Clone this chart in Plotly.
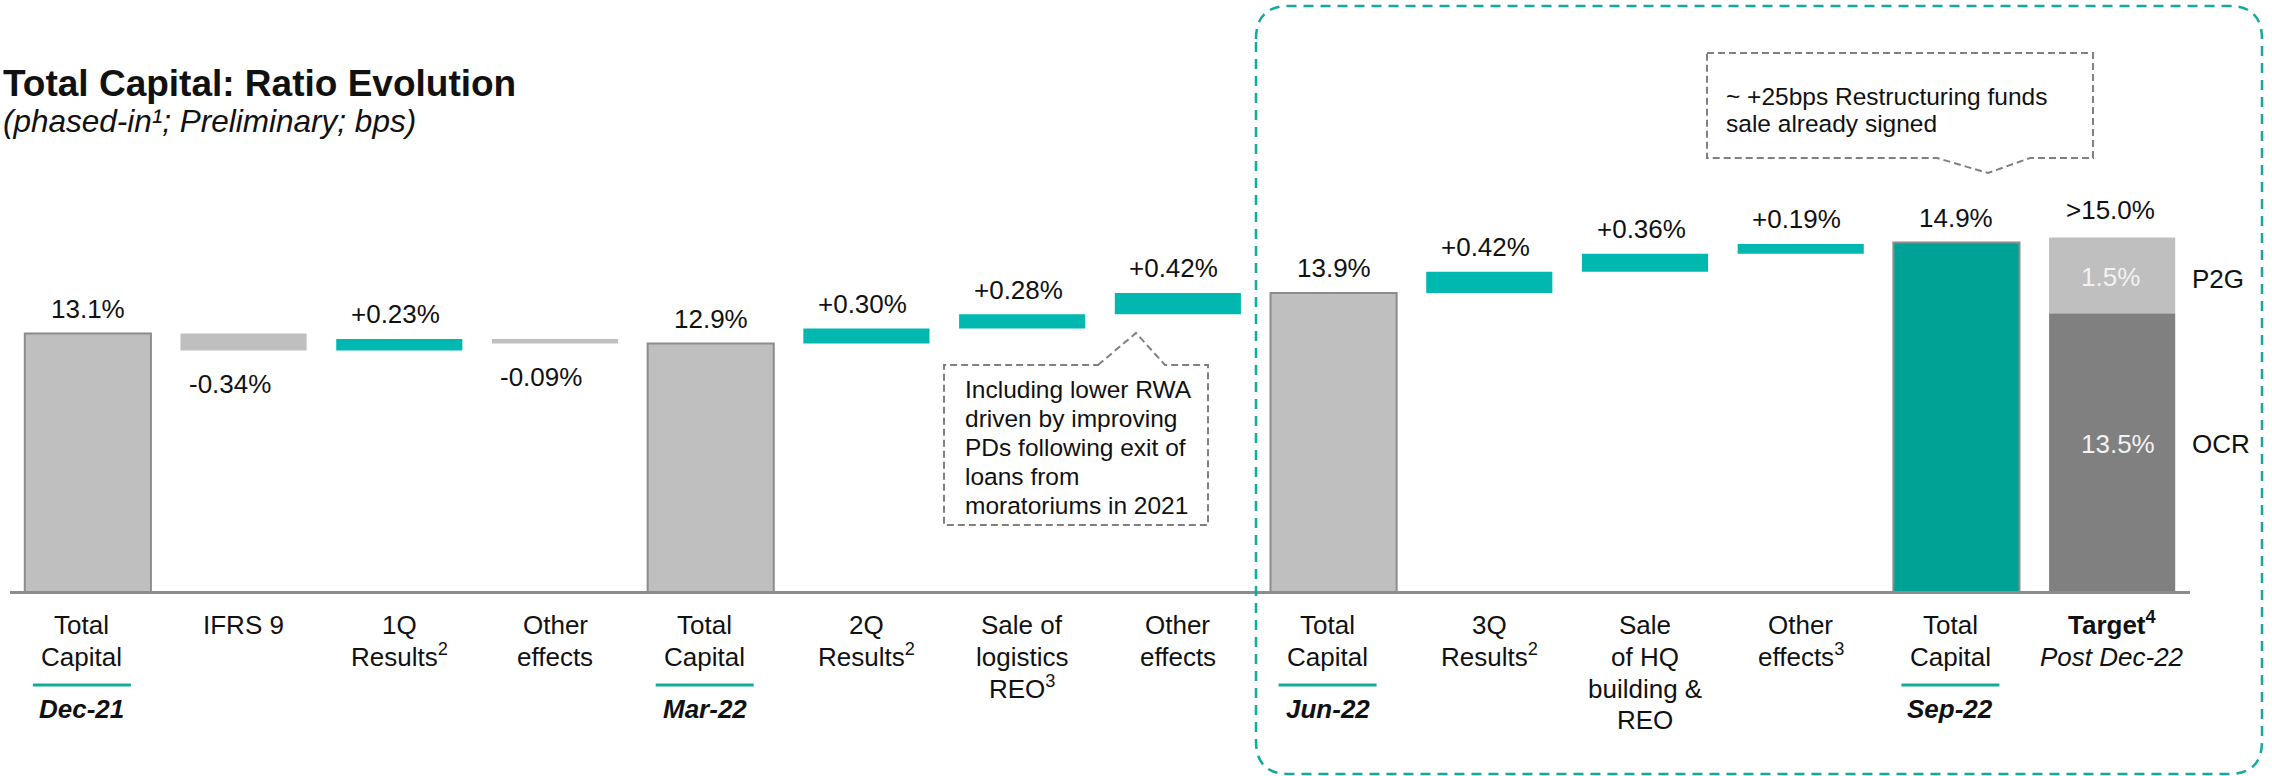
import plotly.graph_objects as go

# ---------------- data ----------------
categories = [
    "Total Capital Dec-21", "IFRS 9", "1Q Results", "Other effects (1Q)",
    "Total Capital Mar-22", "2Q Results", "Sale of logistics REO", "Other effects (2Q)",
    "Total Capital Jun-22", "3Q Results", "Sale of HQ building & REO", "Other effects (3Q)",
    "Total Capital Sep-22", "Target Post Dec-22",
]
kinds = ["total", "delta", "delta", "delta",
         "total", "delta", "delta", "delta",
         "total", "delta", "delta", "delta",
         "total_now", "target"]
values = [13.1, -0.34, 0.23, -0.09,
          12.9, 0.30, 0.28, 0.42,
          13.9, 0.42, 0.36, 0.19,
          14.9, None]
target_ocr = 13.5
target_p2g = 1.5

tick_lines = [
    ["Total", "Capital"],
    ["IFRS 9"],
    ["1Q", "Results<sup>2</sup>"],
    ["Other", "effects"],
    ["Total", "Capital"],
    ["2Q", "Results<sup>2</sup>"],
    ["Sale of", "logistics", "REO<sup>3</sup>"],
    ["Other", "effects"],
    ["Total", "Capital"],
    ["3Q", "Results<sup>2</sup>"],
    ["Sale", "of HQ", "building &", "REO"],
    ["Other", "effects<sup>3</sup>"],
    ["Total", "Capital"],
    ["<b>Target<sup>4</sup></b>", "<i>Post Dec-22</i>"],
]
period_labels = {0: "Dec-21", 4: "Mar-22", 8: "Jun-22", 12: "Sep-22"}

note_logistics = ["Including lower RWA", "driven by improving", "PDs following exit of",
                  "loans from", "moratoriums in 2021"]
note_funds = ["~ +25bps Restructuring funds", "sale already signed"]

title = "<b>Total Capital: Ratio Evolution</b>"
subtitle = "<i>(phased-in¹; Preliminary; bps)</i>"

# ---------------- styling ----------------
FONT = "Liberation Sans, Arial, sans-serif"
GREY = "#BFBFBF"
GREY_EDGE = "#8C8C8C"
DARK_GREY = "#808080"
TEAL = "#00B8B0"
TEAL_DARK = "#00A296"
TEAL_LINE = "#14A99D"
TXT = "#111111"

W, H = 2272, 776
PL, PR, PT, PB = 10, 2190, 187, 591
Y0, Y1 = 8.0, 16.0
N = len(categories)
UNIT = (PR - PL) / N          # pixels per category
BAR_W = 0.81
ASC, DESC = 0.905, 0.36       # effective text box metrics (em)


def px(x):
    return (x - PL) / (PR - PL)


def py(y):
    return (PB - y) / (PB - PT)


# running level for the floating steps
bases, tops, bottoms = [], [], []
level = None
for k, v in zip(kinds, values):
    if k in ("total", "total_now"):
        level = v
        bases.append(0)
        tops.append(v)
        bottoms.append(0)
    elif k == "delta":
        bases.append(level)
        tops.append(max(level, level + v))
        bottoms.append(min(level, level + v))
        level = level + v
    else:
        bases.append(0)
        tops.append(target_ocr + target_p2g)
        bottoms.append(0)

fig = go.Figure()

idx_tot = [i for i, k in enumerate(kinds) if k == "total"]
fig.add_bar(x=idx_tot, y=[values[i] for i in idx_tot], width=BAR_W,
            marker=dict(color=GREY, line=dict(color=GREY_EDGE, width=2)))

idx_now = [i for i, k in enumerate(kinds) if k == "total_now"]
fig.add_bar(x=idx_now, y=[values[i] for i in idx_now], width=BAR_W,
            marker=dict(color=TEAL_DARK, line=dict(color=GREY_EDGE, width=2)))

idx_pos = [i for i, k in enumerate(kinds) if k == "delta" and values[i] > 0]
fig.add_bar(x=idx_pos, y=[values[i] for i in idx_pos], base=[bases[i] for i in idx_pos],
            width=BAR_W, marker=dict(color=TEAL, line=dict(width=0)))

idx_neg = [i for i, k in enumerate(kinds) if k == "delta" and values[i] < 0]
fig.add_bar(x=idx_neg, y=[values[i] for i in idx_neg], base=[bases[i] for i in idx_neg],
            width=BAR_W, marker=dict(color=GREY, line=dict(width=0)))

it = kinds.index("target")
fig.add_bar(x=[it], y=[target_ocr], base=[0], width=BAR_W,
            marker=dict(color=DARK_GREY, line=dict(width=0)))
fig.add_bar(x=[it], y=[target_p2g], base=[target_ocr], width=BAR_W,
            marker=dict(color=GREY, line=dict(width=0)))

annotations = []
shapes = []


def line_text(text, baseline, size=26, x=None, x_px=None, xanchor="center", xshift=0,
              color=TXT):
    a = dict(text=text, showarrow=False, yref="paper", y=py(baseline + DESC * size),
             yanchor="bottom", xanchor=xanchor, xshift=xshift,
             font=dict(family=FONT, size=size, color=color))
    if x is not None:
        a.update(xref="x", x=x)
    else:
        a.update(xref="paper", x=px(x_px))
    annotations.append(a)


# value labels
for i, k in enumerate(kinds):
    if k in ("total", "total_now"):
        txt, yv, up, sh, gap = f"{values[i]:.1f}%", tops[i], True, 0, 17
    elif k == "delta":
        up = values[i] > 0
        txt = f"{values[i]:+.2f}%"
        yv = tops[i] if up else bottoms[i]
        sh, gap = (-4 if up else -14), 17
    else:
        txt, yv, up, sh, gap = f">{target_ocr + target_p2g:.1f}%", tops[i], True, -2, 20
    if up:
        annotations.append(dict(x=i, y=yv, xref="x", yref="y", text=txt, showarrow=False,
                                yanchor="bottom", yshift=gap - DESC * 26, xshift=sh,
                                font=dict(family=FONT, size=26, color=TXT)))
    else:
        annotations.append(dict(x=i, y=yv, xref="x", yref="y", text=txt, showarrow=False,
                                yanchor="top", yshift=-(40 - ASC * 26), xshift=sh,
                                font=dict(family=FONT, size=26, color=TXT)))

# segment labels inside the target bar and the side captions
p2g_mid = target_ocr + target_p2g / 2
ocr_mid = (Y0 + target_ocr) / 2
for txt, yv, ys, xs in [(f"{target_p2g:.1f}%", p2g_mid, -2, -2),
                        (f"{target_ocr:.1f}%", ocr_mid, 8, 6)]:
    annotations.append(dict(x=it, y=yv, xref="x", yref="y", text=txt, showarrow=False,
                            yanchor="middle", yshift=ys, xshift=xs,
                            font=dict(family=FONT, size=26, color="#F2F2F2")))
annotations.append(dict(x=N - 0.5, y=p2g_mid, xref="x", yref="y", yshift=-4,
                        text="P2G", showarrow=False, xanchor="left", yanchor="middle",
                        font=dict(family=FONT, size=26, color=TXT)))
annotations.append(dict(x=N - 0.5, y=ocr_mid, xref="x", yref="y", yshift=8,
                        text="OCR", showarrow=False, xanchor="left", yanchor="middle",
                        font=dict(family=FONT, size=26, color=TXT)))

# category labels under the axis
baselines = [633, 665, 697, 728]
for i, lines in enumerate(tick_lines):
    shift = -6 if i in period_labels else 0
    for j, ln in enumerate(lines):
        line_text(ln, baselines[j], x=i, xshift=shift)
    if i in period_labels:
        line_text(f"<b><i>{period_labels[i]}</i></b>", 717, x=i, xshift=shift)
        c = i + shift / UNIT
        half = 49 / UNIT
        shapes.append(dict(type="line", xref="x", yref="paper", x0=c - half, x1=c + half,
                           y0=py(685), y1=py(685), line=dict(color=TEAL_LINE, width=3)))

# title
line_text(title, 93, size=37, x_px=1, xanchor="left")
line_text(subtitle, 130, size=31.5, x_px=1, xanchor="left")


def path_px(points, close=True):
    s = "M " + " L ".join(f"{px(x):.5f},{py(y):.5f}" for x, y in points)
    return s + (" Z" if close else "")


# callout: logistics note, pointer up to the step bar
box1 = [(1098, 365), (1136, 333), (1165, 365), (1208, 365), (1208, 525), (944, 525), (944, 365)]
shapes.append(dict(type="path", xref="paper", yref="paper", path=path_px(box1),
                   line=dict(color=DARK_GREY, width=2, dash="7px,4px")))
for j, ln in enumerate(note_logistics):
    line_text(ln, 396.5 + j * 28.8, size=24.5, x_px=963, xanchor="left")

# callout: restructuring funds, pointer down
box2 = [(1707, 53), (2093, 53), (2093, 158), (2030, 158), (1988, 173), (1937, 158), (1707, 158)]
shapes.append(dict(type="path", xref="paper", yref="paper", path=path_px(box2),
                   line=dict(color=DARK_GREY, width=2, dash="7px,4px")))
for j, ln in enumerate(note_funds):
    line_text(ln, 103 + j * 27.5, size=24.5, x_px=1724, xanchor="left")

# dashed rounded frame around the latest quarter
x0, y0, x1, y1, r = 1256, 6, 2262, 774, 33
P = lambda x, y: f"{px(x):.5f},{py(y):.5f}"
frame = (f"M {P(x0, y0 + r)} Q {P(x0, y0)} {P(x0 + r, y0)} L {P(x1 - r, y0)} "
         f"Q {P(x1, y0)} {P(x1, y0 + r)} L {P(x1, y1 - r)} Q {P(x1, y1)} {P(x1 - r, y1)} "
         f"L {P(x0 + r, y1)} Q {P(x0, y1)} {P(x0, y1 - r)} Z")
shapes.append(dict(type="path", xref="paper", yref="paper", path=frame,
                   line=dict(color=TEAL_LINE, width=2.5, dash="10px,7px")))

fig.update_layout(
    width=W, height=H,
    margin=dict(l=PL, r=W - PR, t=PT, b=H - PB, pad=0),
    paper_bgcolor="white", plot_bgcolor="white",
    barmode="overlay", showlegend=False, hovermode=False,
    font=dict(family=FONT, color=TXT),
    xaxis=dict(range=[-0.5, N - 0.5], showticklabels=False, showgrid=False, zeroline=False,
               showline=True, linecolor=GREY_EDGE, linewidth=2.5, ticks="", fixedrange=True),
    yaxis=dict(range=[Y0, Y1], visible=False, fixedrange=True),
    annotations=annotations, shapes=shapes,
)

fig.write_html("out.html", config={"displayModeBar": False})
